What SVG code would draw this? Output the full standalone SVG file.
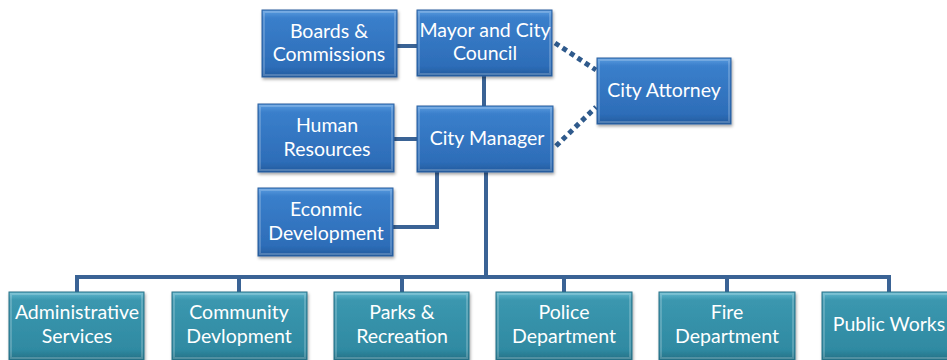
<svg xmlns="http://www.w3.org/2000/svg" width="947" height="360" viewBox="0 0 947 360">
<defs>
<linearGradient id="gb" x1="0" y1="0" x2="0" y2="1">
<stop offset="0" stop-color="#5A9CE0"/>
<stop offset="0.12" stop-color="#3A7FCB"/>
<stop offset="0.85" stop-color="#2D6DB8"/>
<stop offset="1" stop-color="#245B9D"/>
</linearGradient>
<linearGradient id="gt" x1="0" y1="0" x2="0" y2="1">
<stop offset="0" stop-color="#62B8CF"/>
<stop offset="0.12" stop-color="#3B97AF"/>
<stop offset="0.85" stop-color="#2F8AA2"/>
<stop offset="1" stop-color="#256F84"/>
</linearGradient>
<filter id="sh" x="-10%" y="-10%" width="125%" height="130%">
<feDropShadow dx="1" dy="2" stdDeviation="1.5" flood-color="#000" flood-opacity="0.35"/>
</filter>
</defs>
<style>
.b{fill:url(#gb);stroke:#2A5F9E;stroke-width:1;filter:url(#sh)}
.t{fill:url(#gt);stroke:#2A7388;stroke-width:1;filter:url(#sh)}
.hl{fill:none;stroke:#ffffff;stroke-opacity:0.2;stroke-width:2}
text{font-family:Lato,"Open Sans","Liberation Sans",sans-serif;font-size:19.5px;fill:#ffffff;text-anchor:middle}
.c{stroke:#3A6395;stroke-width:4;fill:none}
.d{stroke:#2F5A8C;stroke-width:5;fill:none;stroke-dasharray:5 4}
</style>
<g id="connectors">
<line class="c" x1="397" y1="46" x2="417" y2="46"/>
<line class="c" x1="484" y1="76" x2="484" y2="106"/>
<line class="c" x1="394" y1="139" x2="417" y2="139"/>
<polyline class="c" points="393,227 437,227 437,172"/>
<line class="c" x1="486" y1="172" x2="486" y2="277"/>
<polyline class="c" points="77,292 77,277 889,277 889,292"/>
<line class="c" x1="239" y1="277" x2="239" y2="292"/>
<line class="c" x1="402" y1="277" x2="402" y2="292"/>
<line class="c" x1="564" y1="277" x2="564" y2="292"/>
<line class="c" x1="727" y1="277" x2="727" y2="292"/>
<line class="d" x1="555" y1="43" x2="596" y2="70"/>
<line class="d" x1="556" y1="146" x2="596" y2="107"/>
</g>
<g id="boards"><rect class="b" x="262" y="10" width="135" height="67"/><rect class="hl" x="264" y="12" width="131" height="63"/><text x="329" y="38">Boards &amp;</text><text x="329" y="61">Commissions</text></g>
<g id="mayor"><rect class="b" x="417" y="10" width="135" height="66"/><rect class="hl" x="419" y="12" width="131" height="62"/><text x="485" y="37">Mayor and City</text><text x="485" y="60">Council</text></g>
<g id="attorney"><rect class="b" x="597" y="58" width="134" height="66"/><rect class="hl" x="599" y="60" width="130" height="62"/><text x="664" y="97">City Attorney</text></g>
<g id="hr"><rect class="b" x="258" y="104" width="136" height="68"/><rect class="hl" x="260" y="106" width="132" height="64"/><text x="327" y="132">Human</text><text x="327" y="156">Resources</text></g>
<g id="manager"><rect class="b" x="417" y="106" width="136" height="66"/><rect class="hl" x="419" y="108" width="132" height="62"/><text x="487" y="145">City Manager</text></g>
<g id="econ"><rect class="b" x="258" y="188" width="135" height="68"/><rect class="hl" x="260" y="190" width="131" height="64"/><text x="326" y="216">Econmic</text><text x="326" y="240">Development</text></g>
<g id="admin"><rect class="t" x="9" y="292" width="135" height="68"/><rect class="hl" x="11" y="294" width="131" height="64"/><text x="77" y="319">Administrative</text><text x="77" y="343">Services</text></g>
<g id="community"><rect class="t" x="172" y="292" width="135" height="68"/><rect class="hl" x="174" y="294" width="131" height="64"/><text x="239" y="319">Community</text><text x="239" y="343">Devlopment</text></g>
<g id="parks"><rect class="t" x="334" y="292" width="135" height="68"/><rect class="hl" x="336" y="294" width="131" height="64"/><text x="402" y="319">Parks &amp;</text><text x="402" y="343">Recreation</text></g>
<g id="police"><rect class="t" x="496" y="292" width="136" height="68"/><rect class="hl" x="498" y="294" width="132" height="64"/><text x="564" y="319">Police</text><text x="564" y="343">Department</text></g>
<g id="fire"><rect class="t" x="659" y="292" width="136" height="68"/><rect class="hl" x="661" y="294" width="132" height="64"/><text x="727" y="319">Fire</text><text x="727" y="343">Department</text></g>
<g id="publicworks"><rect class="t" x="822" y="292" width="136" height="68"/><rect class="hl" x="824" y="294" width="132" height="64"/><text x="889" y="331">Public Works</text></g>
</svg>
